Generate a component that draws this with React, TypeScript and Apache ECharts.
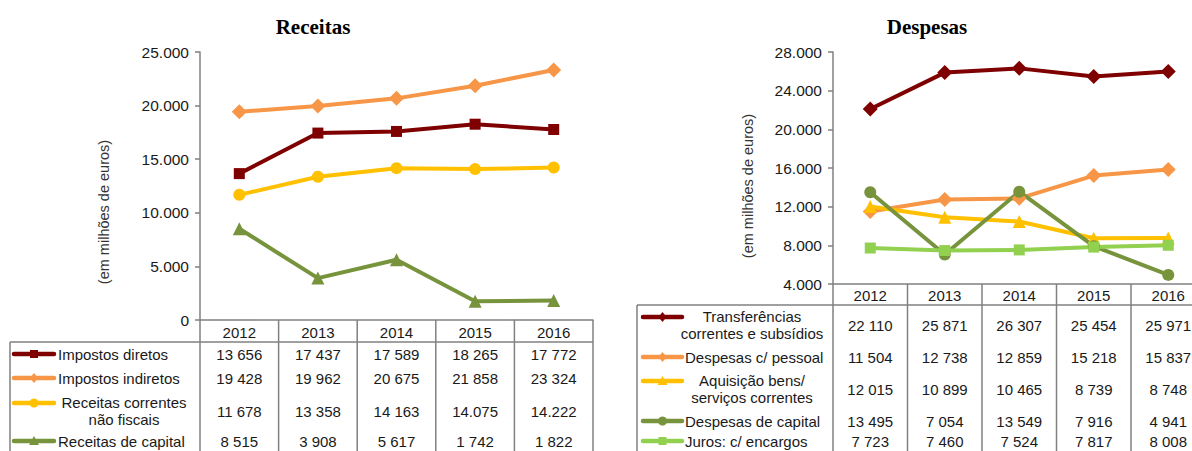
import React, { useEffect, useRef } from "react";
import * as echarts from "echarts";

// ---------- data ----------
const years = ["2012", "2013", "2014", "2015", "2016"];

const impostosDiretos = [13656, 17437, 17589, 18265, 17772];
const impostosIndiretos = [19428, 19962, 20675, 21858, 23324];
const receitasCorrentesNaoFiscais = [11678, 13358, 14163, 14075, 14222];
const receitasCapital = [8515, 3908, 5617, 1742, 1822];
// thousands separator used in the source table for "Receitas correntes não fiscais"
const naoFiscaisSeparators = [" ", " ", " ", ".", "."];

const transferencias = [22110, 25871, 26307, 25454, 25971];
const despesasPessoal = [11504, 12738, 12859, 15218, 15837];
const aquisicaoBens = [12015, 10899, 10465, 8739, 8748];
const despesasCapital = [13495, 7054, 13549, 7916, 4941];
const jurosEncargos = [7723, 7460, 7524, 7817, 8008];

const receitasTicks = [0, 5000, 10000, 15000, 20000, 25000];
const despesasTicks = [4000, 8000, 12000, 16000, 20000, 24000, 28000];

// ---------- styles ----------
const FONT = '"Liberation Sans", Arial, sans-serif';
const TXT = "#1a1a1a";
const BORDER = "#808080";
const C_DARKRED = "#7f0000";
const C_ORANGE = "#f79646";
const C_YELLOW = "#ffc000";
const C_OLIVE = "#77933c";
const C_LGREEN = "#92d050";

type Meta = {
  name: string;
  label: string[];
  multiline: boolean;
  data: number[];
  seps?: string[];
  color: string;
  symbol: string;
  size: number;
  rowY: number;
};

const receitasSeries: Meta[] = [
  { name: "Impostos diretos", label: ["Impostos diretos"], multiline: false, data: impostosDiretos, color: C_DARKRED, symbol: "rect", size: 11, rowY: 354 },
  { name: "Impostos indiretos", label: ["Impostos indiretos"], multiline: false, data: impostosIndiretos, color: C_ORANGE, symbol: "diamond", size: 15, rowY: 378 },
  { name: "Receitas correntes não fiscais", label: ["Receitas correntes", "não fiscais"], multiline: true, data: receitasCorrentesNaoFiscais, seps: naoFiscaisSeparators, color: C_YELLOW, symbol: "circle", size: 12, rowY: 411 },
  { name: "Receitas de capital", label: ["Receitas de capital"], multiline: false, data: receitasCapital, color: C_OLIVE, symbol: "triangle", size: 13, rowY: 441 },
];

const despesasSeries: Meta[] = [
  { name: "Transferências correntes e subsídios", label: ["Transferências", "correntes e subsídios"], multiline: true, data: transferencias, color: C_DARKRED, symbol: "diamond", size: 15, rowY: 325 },
  { name: "Despesas c/ pessoal", label: ["Despesas c/ pessoal"], multiline: false, data: despesasPessoal, color: C_ORANGE, symbol: "diamond", size: 15, rowY: 357 },
  { name: "Aquisição bens/ serviços correntes", label: ["Aquisição bens/", "serviços correntes"], multiline: true, data: aquisicaoBens, color: C_YELLOW, symbol: "triangle", size: 13, rowY: 389 },
  { name: "Despesas de capital", label: ["Despesas de capital"], multiline: false, data: despesasCapital, color: C_OLIVE, symbol: "circle", size: 12, rowY: 421 },
  { name: "Juros: c/ encargos", label: ["Juros: c/ encargos"], multiline: false, data: jurosEncargos, color: C_LGREEN, symbol: "rect", size: 11, rowY: 441 },
];

// ---------- layout ----------
type Panel = {
  title: string;
  titleX: number;
  gridLeft: number;
  gridTop: number;
  gridHeight: number;
  colW: number;
  headerH: number;
  legendLeft: number;
  legendTextX: number;
  legendCenterX: number;
  symbolX0: number;
  symbolX1: number;
  nameX: number;
  nameY: number;
  ticks: number[];
  series: Meta[];
};

const panels: Panel[] = [
  {
    title: "Receitas", titleX: 313, gridLeft: 200, gridTop: 52, gridHeight: 268, colW: 78.6, headerH: 22,
    legendLeft: 10, legendTextX: 58, legendCenterX: 124, symbolX0: 14, symbolX1: 54,
    nameX: 104, nameY: 212, ticks: receitasTicks, series: receitasSeries,
  },
  {
    title: "Despesas", titleX: 927, gridLeft: 833, gridTop: 52, gridHeight: 232, colW: 74.5, headerH: 21,
    legendLeft: 637, legendTextX: 685, legendCenterX: 752, symbolX0: 643, symbolX1: 682,
    nameX: 748, nameY: 186, ticks: despesasTicks, series: despesasSeries,
  },
];

const BOTTOM = 460;

function fmtThousands(v: number, sep: string) {
  return String(v).replace(/\B(?=(\d{3})+(?!\d))/g, sep);
}

function keyMarker(symbol: string, cx: number, cy: number, color: string) {
  if (symbol === "circle") return { type: "circle", shape: { cx, cy, r: 4.5 }, style: { fill: color } };
  if (symbol === "diamond")
    return { type: "polygon", shape: { points: [[cx, cy - 5], [cx + 4, cy], [cx, cy + 5], [cx - 4, cy]] }, style: { fill: color } };
  if (symbol === "triangle")
    return { type: "polygon", shape: { points: [[cx, cy - 5], [cx + 5, cy + 4], [cx - 5, cy + 4]] }, style: { fill: color } };
  return { type: "rect", shape: { x: cx - 4, y: cy - 4, width: 8, height: 8 }, style: { fill: color } };
}

function buildOption() {
  const grid: any[] = [];
  const xAxis: any[] = [];
  const yAxis: any[] = [];
  const series: any[] = [];
  const graphic: any[] = [];

  panels.forEach((p, pi) => {
    const width = p.colW * years.length;
    grid.push({ left: p.gridLeft, top: p.gridTop, width, height: p.gridHeight, outerBoundsMode: "none" });
    xAxis.push({
      type: "category", gridIndex: pi, data: years, boundaryGap: true,
      axisLine: { show: true, lineStyle: { color: BORDER, width: 1.5 } },
      axisTick: { show: false }, axisLabel: { show: false }, splitLine: { show: false },
    });
    yAxis.push({
      type: "value", gridIndex: pi,
      min: p.ticks[0], max: p.ticks[p.ticks.length - 1], interval: p.ticks[1] - p.ticks[0],
      axisLine: { show: true, lineStyle: { color: BORDER, width: 1.5 } },
      axisTick: { show: true, length: 5, lineStyle: { color: BORDER, width: 1.5 } },
      splitLine: { show: false },
      axisLabel: { color: TXT, fontFamily: FONT, fontSize: 15.5, margin: 11, formatter: (v: number) => fmtThousands(v, ".") },
    });

    p.series.forEach((s) => {
      series.push({
        type: "line", name: s.name, xAxisIndex: pi, yAxisIndex: pi, data: s.data,
        symbol: s.symbol, symbolSize: s.size, showSymbol: true,
        lineStyle: { color: s.color, width: 4 },
        itemStyle: { color: s.color, borderWidth: 0 },
        z: 3,
      });
    });

    // title
    graphic.push({
      type: "text", x: p.titleX, y: 27,
      style: { text: p.title, fill: "#000", font: 'bold 21px "Liberation Serif", "Times New Roman", serif', align: "center", verticalAlign: "middle" },
    });
    // axis name
    graphic.push({
      type: "text", x: p.nameX, y: p.nameY, rotation: Math.PI / 2,
      style: { text: "(em milhões de euros)", fill: "#333", font: `14.5px ${FONT}`, align: "center", verticalAlign: "middle" },
    });

    // table
    const axisY = p.gridTop + p.gridHeight;
    const headerBottom = axisY + p.headerH;
    const right = p.gridLeft + width;
    const line = (x1: number, y1: number, x2: number, y2: number) => ({
      type: "line", shape: { x1, y1, x2, y2 }, style: { stroke: BORDER, lineWidth: 1.5 }, silent: true,
    });
    graphic.push(line(p.legendLeft, headerBottom, right, headerBottom));
    graphic.push(line(p.legendLeft, headerBottom, p.legendLeft, BOTTOM));
    for (let i = 0; i <= years.length; i++) {
      const x = p.gridLeft + i * p.colW;
      graphic.push(line(x, axisY, x, BOTTOM));
    }
    years.forEach((y, i) => {
      graphic.push({
        type: "text", x: p.gridLeft + (i + 0.5) * p.colW, y: axisY + p.headerH / 2 + 1,
        style: { text: y, fill: TXT, font: `15px ${FONT}`, align: "center", verticalAlign: "middle" },
      });
    });
    p.series.forEach((s) => {
      const ky = s.rowY - (s.multiline ? 8 : 0);
      graphic.push({
        type: "line", shape: { x1: p.symbolX0, y1: ky, x2: p.symbolX1, y2: ky },
        style: { stroke: s.color, lineWidth: 4.5, lineCap: "round" },
      });
      graphic.push(keyMarker(s.symbol, (p.symbolX0 + p.symbolX1) / 2, ky, s.color));
      if (s.multiline) {
        graphic.push({
          type: "text", x: p.legendCenterX, y: s.rowY,
          style: { text: s.label.join("\n"), fill: TXT, font: `15px ${FONT}`, align: "center", verticalAlign: "middle", lineHeight: 17 },
        });
      } else {
        graphic.push({
          type: "text", x: p.legendTextX, y: s.rowY,
          style: { text: s.label[0], fill: TXT, font: `15px ${FONT}`, align: "left", verticalAlign: "middle" },
        });
      }
      s.data.forEach((v, i) => {
        graphic.push({
          type: "text", x: p.gridLeft + (i + 0.5) * p.colW, y: s.rowY,
          style: { text: fmtThousands(v, s.seps ? s.seps[i] : " "), fill: TXT, font: `15px ${FONT}`, align: "center", verticalAlign: "middle" },
        });
      });
    });
  });

  return {
    animation: false,
    backgroundColor: "#ffffff",
    grid, xAxis, yAxis, series, graphic,
  };
}

export default function App() {
  const ref = useRef<HTMLDivElement>(null);
  useEffect(() => {
    document.body.style.margin = "0";
    if (!ref.current) return;
    const chart = echarts.init(ref.current, undefined, { renderer: "svg" });
    chart.setOption(buildOption() as any);
    return () => chart.dispose();
  }, []);
  return <div ref={ref} style={{ width: 1192, height: 451 }} />;
}
